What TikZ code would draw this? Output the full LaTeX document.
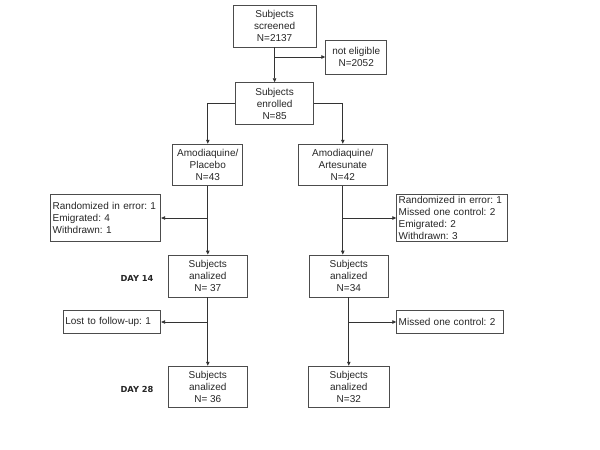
\documentclass[tikz,border=0pt]{standalone}
\usepackage{fontspec}
\setmainfont{Liberation Sans}
\newfontfamily\dayfont{DejaVu Sans}
\usetikzlibrary{arrows.meta}
\frenchspacing
\newcommand{\cnsclxa}{105.7}
\newcommand{\cnsclxb}{112}
\newcommand{\cnsclxc}{137}
\newcommand{\cnsclxd}{207.8}
\newcommand{\cnsclxe}{274.6}
\newcommand{\cnsclxf}{342.8}
\newcommand{\cnsclxg}{348.8}
\newcommand{\cnsclxh}{356.2}
\newcommand{\cnsclxi}{450}
\newcommand{\cnsclxj}{452.2}
\newcommand{\cnsclya}{26}
\newcommand{\cnsclyb}{57}
\newcommand{\cnsclyc}{103.5}
\newcommand{\cnsclyd}{165}
\newcommand{\cnsclye}{218}
\newcommand{\cnsclyf}{276}
\newcommand{\cnsclyg}{322}
\newcommand{\cnsclyh}{387}
\newcommand{\cnsdyoff}{2}

\begin{document}
\begin{tikzpicture}[x=1pt,y=-1pt,font=\fontsize{10}{12}\selectfont\frenchspacing,
    cnsbox/.style={draw=black!70,line width=0.8pt,inner sep=0pt,align=center,
      text=black!85,minimum height=41.7pt},
    cnsnote/.style={draw=black!70,line width=0.8pt,inner xsep=2pt,inner ysep=0pt,
      align=left,text=black!85},
    cnsday/.style={font=\dayfont\bfseries\fontsize{8.3}{10}\selectfont,text=black!85},
    cnsline/.style={draw=black!80,line width=0.8pt},
    cnsarrow/.style={cnsline,-{Triangle[length=4pt,width=3.5pt]}}]
    \useasboundingbox (0,0) rectangle (600,450);

    \node (screened) at (\cnsclxe, \cnsclya) [cnsbox,minimum width=83pt,minimum height=42pt]
      {Subjects\\screened\\N=2137};
    \node (noteligible) at (\cnsclxh, \cnsclyb) [cnsbox,minimum width=61pt,minimum height=34pt]
      {not eligible\\N=2052};
    \node (enrolled) at (\cnsclxe, \cnsclyc) [cnsbox,minimum width=78pt]
      {Subjects\\enrolled\\N=85};
    \node (placebo) at (\cnsclxd, \cnsclyd) [cnsbox,minimum width=70pt]
      {Amodiaquine/\\Placebo\\N=43};
    \node (artesunate) at (\cnsclxf, \cnsclyd) [cnsbox,minimum width=89pt]
      {Amodiaquine/\\Artesunate\\N=42};
    \node (exclleft) at (\cnsclxa, \cnsclye) [cnsnote,text width=106pt,minimum height=47.7pt]
      {Randomized in error: 1\\Emigrated: 4\\Withdrawn: 1};
    \node (exclright) at (\cnsclxj, \cnsclye) [cnsnote,text width=107pt,minimum height=47.7pt]
      {Randomized in error: 1\\Missed one control: 2\\Emigrated: 2\\Withdrawn: 3};
    \node (dayfourteenl) at (\cnsclxd, \cnsclyf) [cnsbox,minimum width=79pt,minimum height=42pt]
      {Subjects\\analized\\N= 37};
    \node (dayfourteenr) at (\cnsclxg, \cnsclyf) [cnsbox,minimum width=79pt,minimum height=42pt]
      {Subjects\\analized\\N=34};
    \node (lost) at (\cnsclxb, \cnsclyg) [cnsnote,text width=93.4pt,minimum height=22.6pt]
      {Lost to follow-up: 1};
    \node (missed) at (\cnsclxi, \cnsclyg) [cnsnote,text width=102.6pt,minimum height=22.4pt]
      {Missed one control: 2};
    \node (daytwentyeightl) at (\cnsclxd, \cnsclyh) [cnsbox,minimum width=79pt]
      {Subjects\\analized\\N= 36};
    \node (daytwentyeightr) at (\cnsclxg, \cnsclyh) [cnsbox,minimum width=81pt]
      {Subjects\\analized\\N=32};

    \node (dayfourteen) at (\cnsclxc, \cnsclyf + \cnsdyoff) [cnsday] {DAY 14};
    \node (daytwentyeight) at (\cnsclxc, \cnsclyh + \cnsdyoff) [cnsday] {DAY 28};

    \draw[cnsarrow] (screened) -- (enrolled);
    \draw[cnsarrow] (screened.south |- noteligible.west) -- (noteligible.west);
    \draw[cnsarrow] (enrolled.west) -| (placebo.north);
    \draw[cnsarrow] (enrolled.east) -| (artesunate.north);
    \draw[cnsarrow] (placebo) -- (dayfourteenl);
    \draw[cnsarrow] (placebo.south |- exclleft.east) -- (exclleft.east);
    \draw[cnsarrow] (artesunate.south) -- (artesunate.south |- dayfourteenr.north);
    \draw[cnsarrow] (artesunate.south |- exclright.west) -- (exclright.west);
    \draw[cnsarrow] (dayfourteenl) -- (daytwentyeightl);
    \draw[cnsarrow] (dayfourteenl.south |- lost.east) -- (lost.east);
    \draw[cnsarrow] (dayfourteenr) -- (daytwentyeightr);
    \draw[cnsarrow] (dayfourteenr.south |- missed.west) -- (missed.west);
  \end{tikzpicture}
\end{document}
